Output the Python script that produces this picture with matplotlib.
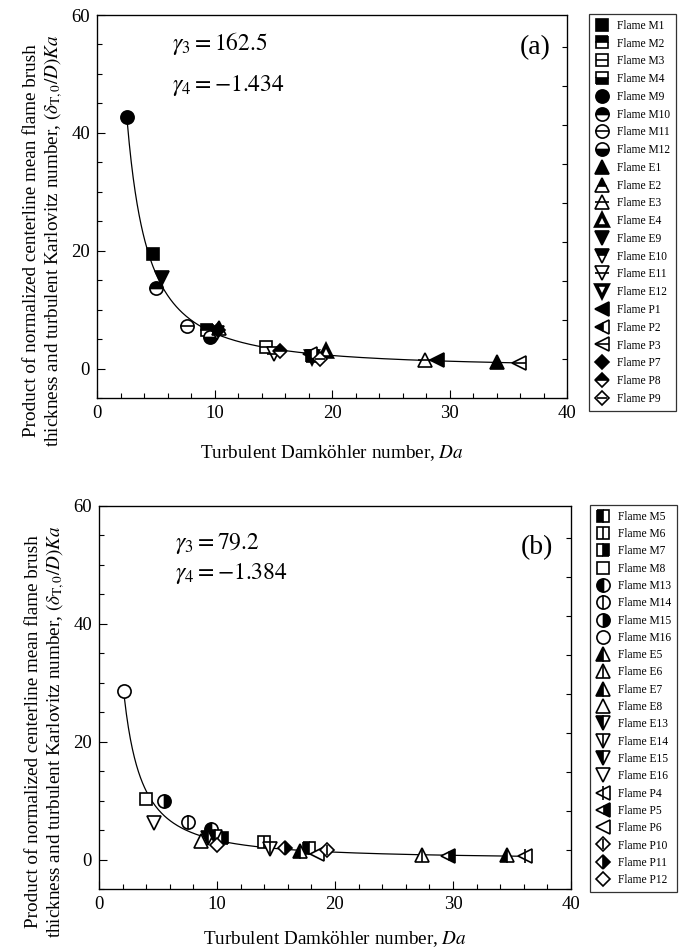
import matplotlib
matplotlib.use('Agg')
import matplotlib.pyplot as plt
import numpy as np
from matplotlib.lines import Line2D
from matplotlib.legend_handler import HandlerTuple
from matplotlib.ticker import MultipleLocator

plt.rcParams['font.family'] = ['Liberation Serif', 'DejaVu Serif']
plt.rcParams['mathtext.fontset'] = 'stix'

# ---------------- data: panel (a) ----------------
flames_a = ['M1', 'M2', 'M3', 'M4', 'M9', 'M10', 'M11', 'M12',
            'E1', 'E2', 'E3', 'E4', 'E9', 'E10', 'E11', 'E12',
            'P1', 'P2', 'P3', 'P7', 'P8', 'P9']
da_a = [4.77, 9.4, 14.4, 18.3, 2.58, 5.0, 7.7, 9.6,
        34.0, 10.4, 27.9, 19.5, 5.5, 10.2, 15.1, 18.3,
        28.9, 18.1, 35.9, 10.3, 15.6, 19.0]
ka_a = [19.5, 6.5, 3.6, 2.2, 42.7, 13.7, 7.3, 5.3,
        1.07, 6.9, 1.5, 2.9, 15.4, 6.0, 2.5, 2.0,
        1.4, 2.4, 0.9, 6.5, 3.0, 1.7]
gamma3_a, gamma4_a = 162.5, -1.434

# ---------------- data: panel (b) ----------------
flames_b = ['M5', 'M6', 'M7', 'M8', 'M13', 'M14', 'M15', 'M16',
            'E5', 'E6', 'E7', 'E8', 'E13', 'E14', 'E15', 'E16',
            'P4', 'P5', 'P6', 'P10', 'P11', 'P12']
da_b = [17.8, 14.0, 10.4, 3.96, 9.5, 7.5, 5.5, 2.15,
        17.0, 27.35, 34.55, 8.64, 9.2, 14.5, 9.8, 4.66,
        36.1, 29.6, 18.5, 19.3, 15.8, 9.97]
ka_b = [2.0, 2.9, 3.7, 10.2, 5.2, 6.3, 9.9, 28.6,
        1.5, 0.85, 0.85, 3.1, 3.6, 1.8, 3.9, 6.2,
        0.6, 0.6, 1.0, 1.7, 1.9, 2.5]
gamma3_b, gamma4_b = 79.2, -1.384

# ---------------- marker styles (marker, fillstyle, overlay line) ----------------
styles = {
    'M1': ('s', 'full', None), 'M2': ('s', 'top', None), 'M3': ('s', 'none', '_'),
    'M4': ('s', 'bottom', None), 'M9': ('o', 'full', None), 'M10': ('o', 'top', None),
    'M11': ('o', 'none', '_'), 'M12': ('o', 'bottom', None),
    'E1': ('^', 'full', None), 'E2': ('^', 'top', None), 'E3': ('^', 'none', '_'),
    'E4': ('^', 'thick', None), 'E9': ('v', 'full', None), 'E10': ('v', 'top', None),
    'E11': ('v', 'none', '_'), 'E12': ('v', 'thick', None),
    'P1': ('<', 'full', None), 'P2': ('<', 'left', None), 'P3': ('<', 'none', '_'),
    'P7': ('D', 'full', None), 'P8': ('D', 'top', None), 'P9': ('D', 'none', '_'),
    'M5': ('s', 'left', None), 'M6': ('s', 'none', '|'), 'M7': ('s', 'right', None),
    'M8': ('s', 'none', None), 'M13': ('o', 'left', None), 'M14': ('o', 'none', '|'),
    'M15': ('o', 'right', None), 'M16': ('o', 'none', None),
    'E5': ('^', 'left', None), 'E6': ('^', 'none', '|'), 'E7': ('^', 'left', None),
    'E8': ('^', 'none', None), 'E13': ('v', 'left', None), 'E14': ('v', 'none', '|'),
    'E15': ('v', 'left', None), 'E16': ('v', 'none', None),
    'P4': ('<', 'none', '|'), 'P5': ('<', 'right', None), 'P6': ('<', 'none', None),
    'P10': ('D', 'none', '|'), 'P11': ('D', 'right', None), 'P12': ('D', 'none', None),
}

MS = 9.5
SIZE_ADJ = {'D': 0.8, 'o': 1.0, 's': 0.92, '^': 1.0, 'v': 1.0, '<': 1.0}


def make_artists(ax, name, x, y):
    mk, fs, ov = styles[name]
    ms = MS * SIZE_ADJ[mk]
    kw = dict(ls='none', marker=mk, ms=ms, mec='black', mew=1.2)
    if fs == 'full':
        kw.update(mfc='black')
    elif fs == 'none':
        kw.update(mfc='white')
    elif fs == 'thick':
        kw.update(mfc='white', mew=2.6, ms=ms * 0.9)
    else:
        kw.update(mfc='black', fillstyle=fs, markerfacecoloralt='white')
    arts = []
    if ax is not None:
        l1, = ax.plot([x], [y], **kw)
    else:
        l1 = Line2D([], [], **kw)
    arts.append(l1)
    if ov is not None:
        kw2 = dict(ls='none', marker=ov, ms=ms, mec='black', mew=1.2)
        if ax is not None:
            l2, = ax.plot([x], [y], **kw2)
        else:
            l2 = Line2D([], [], **kw2)
        arts.append(l2)
    return tuple(arts)


W, H = 684, 951
fig = plt.figure(figsize=(W / 100, H / 100), dpi=100)

panels = [
    dict(flames=flames_a, da=da_a, ka=ka_a, g3=gamma3_a, g4=gamma4_a, tag='(a)',
         rect=[97 / W, 1 - 398 / H, 470 / W, 383 / H],
         leg_anchor=(589 / W, 1 - 14 / H), lsp=0.5, xpad=15,
         txt=[(6.35, 55.2), (6.35, 48.1)], tagpos=(37.3, 54.4)),
    dict(flames=flames_b, da=da_b, ka=ka_b, g3=gamma3_b, g4=gamma4_b, tag='(b)',
         rect=[99 / W, 1 - 889 / H, 472 / W, 383 / H],
         leg_anchor=(590 / W, 1 - 505 / H), lsp=0.46, xpad=12,
         txt=[(6.44, 53.7), (6.44, 48.6)], tagpos=(37.1, 52.9)),
]

for p in panels:
    ax = fig.add_axes(p['rect'])
    ax.set_xlim(0, 40)
    ax.set_ylim(-5, 60)
    # fit curve
    xs = np.linspace(min(p['da']), max(p['da']), 400)
    ax.plot(xs, p['g3'] * xs ** p['g4'], color='black', lw=0.9, zorder=1)
    handles, labels = [], []
    for name, x, y in zip(p['flames'], p['da'], p['ka']):
        make_artists(ax, name, x, y)
        handles.append(make_artists(None, name, 0, 0))
        labels.append('Flame ' + name)
    ax.xaxis.set_major_locator(MultipleLocator(10))
    ax.xaxis.set_minor_locator(MultipleLocator(2))
    ax.yaxis.set_major_locator(MultipleLocator(20))
    ax.yaxis.set_minor_locator(MultipleLocator(5))
    ax.tick_params(which='both', direction='in', labelsize=13.5, top=False, right=False)
    ax.tick_params(which='major', length=6, width=0.8, pad=5)
    ax.tick_params(which='minor', length=3.5, width=0.8)
    for s in ax.spines.values():
        s.set_linewidth(0.9)
    ax2 = ax.twinx()
    ax2.set_ylim(0, 383 / 39)
    ax2.yaxis.set_major_locator(MultipleLocator(1))
    ax2.tick_params(direction='in', length=3.5, width=0.8, labelright=False)
    ax.set_xlabel(r'Turbulent Damköhler number, $\mathit{Da}$', fontsize=13.8, labelpad=p['xpad'])
    ax.set_ylabel('Product of normalized centerline mean flame brush\n'
                  r'thickness and turbulent Karlovitz number, $(\delta_{\mathrm{T,0}}/D)\mathit{Ka}$',
                  fontsize=13.8, linespacing=1.15)
    ax.yaxis.set_label_coords(-0.068, 0.41)
    (tx1, ty1), (tx2, ty2) = p['txt']
    ax.text(tx1, ty1, r'$\gamma_3 = %s$' % ('%.1f' % p['g3']), fontsize=17, ha='left', va='center')
    ax.text(tx2, ty2, r'$\gamma_4 = -%s$' % ('%.3f' % abs(p['g4'])), fontsize=17, ha='left', va='center')
    ax.text(*p['tagpos'], p['tag'], fontsize=20, ha='center', va='center')
    leg = fig.legend(handles, labels, loc='upper left', bbox_to_anchor=p['leg_anchor'],
                     handler_map={tuple: HandlerTuple(ndivide=1)},
                     fontsize=8.3, frameon=True, fancybox=False, edgecolor='black',
                     handlelength=1.2, handletextpad=0.7, labelspacing=p['lsp'],
                     borderpad=0.5, borderaxespad=0)
    leg.get_frame().set_linewidth(0.9)

fig.savefig('out.png', dpi=100)
